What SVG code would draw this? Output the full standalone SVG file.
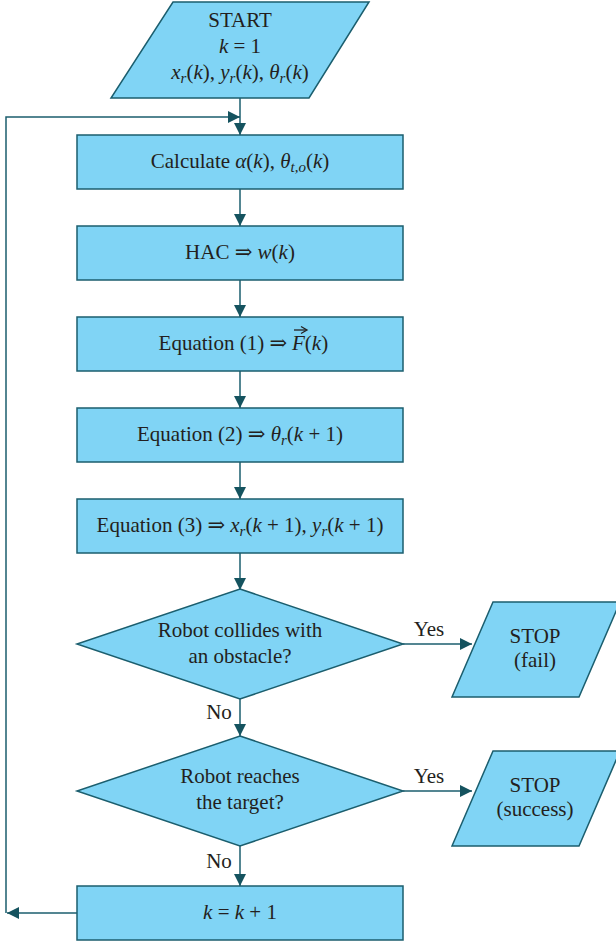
<svg xmlns="http://www.w3.org/2000/svg" width="616" height="942" viewBox="0 0 616 942" font-family="'Liberation Serif', 'DejaVu Serif', serif" font-size="21">
<defs>
<style>
.shape{fill:#80d4f5;stroke:#1b5e6e;stroke-width:1.5}
.conn{fill:none;stroke:#1b5e6e;stroke-width:1.5}
text{fill:#231f20}
.c{text-anchor:middle}
.i{font-style:italic}
.s{font-size:15px;font-style:italic}
</style>
<marker id="ah" markerUnits="userSpaceOnUse" markerWidth="13" markerHeight="13" refX="12" refY="6" orient="auto">
<path d="M0,0 L12,6 L0,12 Z" fill="#15535f"/>
</marker>
</defs>
<rect width="616" height="942" fill="#ffffff"/>

<g id="connectors">
<path class="conn" d="M240,98 L240,135" marker-end="url(#ah)"/>
<path class="conn" d="M6,913 L6,117 L240,117" marker-end="url(#ah)"/>
<path class="conn" d="M77,913 L7,913" marker-end="url(#ah)"/>
<path class="conn" d="M240,189 L240,226" marker-end="url(#ah)"/>
<path class="conn" d="M240,280 L240,317" marker-end="url(#ah)"/>
<path class="conn" d="M240,371 L240,408" marker-end="url(#ah)"/>
<path class="conn" d="M240,462 L240,499" marker-end="url(#ah)"/>
<path class="conn" d="M240,553 L240,590" marker-end="url(#ah)"/>
<path class="conn" d="M240,699 L240,736" marker-end="url(#ah)"/>
<path class="conn" d="M240,846 L240,886" marker-end="url(#ah)"/>
<path class="conn" d="M403,644 L472,644" marker-end="url(#ah)"/>
<path class="conn" d="M403,791 L472,791" marker-end="url(#ah)"/>
<text x="429" y="636" class="c">Yes</text>
<text x="429" y="783" class="c">Yes</text>
<text x="219" y="719" class="c">No</text>
<text x="219" y="868" class="c">No</text>
</g>

<g id="start">
<polygon class="shape" points="173,2 369,2 309,98 111,98"/>
<text x="240" y="27" class="c">START</text>
<text x="240" y="53" class="c"><tspan class="i">k</tspan> = 1</text>
<text x="240" y="79" class="c"><tspan class="i">x</tspan><tspan class="s" dy="4">r</tspan><tspan dy="-4">(</tspan><tspan class="i">k</tspan>), <tspan class="i">y</tspan><tspan class="s" dy="4">r</tspan><tspan dy="-4">(</tspan><tspan class="i">k</tspan>), <tspan class="i">θ</tspan><tspan class="s" dy="4">r</tspan><tspan dy="-4">(</tspan><tspan class="i">k</tspan>)</text>
</g>

<g id="calc">
<rect class="shape" x="77" y="135" width="326" height="54"/>
<text x="240" y="168" class="c">Calculate <tspan class="i">α</tspan>(<tspan class="i">k</tspan>), <tspan class="i">θ</tspan><tspan class="s" dy="4">t,o</tspan><tspan dy="-4">(</tspan><tspan class="i">k</tspan>)</text>
</g>

<g id="hac">
<rect class="shape" x="77" y="226" width="326" height="54"/>
<text x="240" y="259" class="c">HAC ⇒ <tspan class="i">w</tspan>(<tspan class="i">k</tspan>)</text>
</g>

<g id="eq1">
<rect class="shape" x="77" y="317" width="326" height="54"/>
<text x="287" y="350" text-anchor="end">Equation (1) ⇒</text>
<text x="292" y="350"><tspan class="i">F</tspan>(<tspan class="i">k</tspan>)</text>
<path d="M294,330 L306,330" stroke="#231f20" stroke-width="1.3" fill="none"/>
<path d="M301,326.5 L307,330 L301,333.5" stroke="#231f20" stroke-width="1.3" fill="none"/>
</g>

<g id="eq2">
<rect class="shape" x="77" y="408" width="326" height="54"/>
<text x="240" y="441" class="c">Equation (2) ⇒ <tspan class="i">θ</tspan><tspan class="s" dy="4">r</tspan><tspan dy="-4">(</tspan><tspan class="i">k</tspan> + 1)</text>
</g>

<g id="eq3">
<rect class="shape" x="77" y="499" width="326" height="54"/>
<text x="240" y="532" class="c">Equation (3) ⇒ <tspan class="i">x</tspan><tspan class="s" dy="4">r</tspan><tspan dy="-4">(</tspan><tspan class="i">k</tspan> + 1), <tspan class="i">y</tspan><tspan class="s" dy="4">r</tspan><tspan dy="-4">(</tspan><tspan class="i">k</tspan> + 1)</text>
</g>

<g id="collide">
<polygon class="shape" points="240,589 403,644 240,699 77,644"/>
<text x="240" y="637" class="c">Robot collides with</text>
<text x="240" y="663" class="c">an obstacle?</text>
</g>

<g id="stopfail">
<polygon class="shape" points="493,602 620,602 579,697 452,697"/>
<text x="535" y="643" class="c">STOP</text>
<text x="535" y="667" class="c">(fail)</text>
</g>

<g id="target">
<polygon class="shape" points="240,736 403,791 240,846 77,791"/>
<text x="240" y="783" class="c">Robot reaches</text>
<text x="240" y="809" class="c">the target?</text>
</g>

<g id="stopsuccess">
<polygon class="shape" points="493,751 620,751 579,846 452,846"/>
<text x="535" y="792" class="c">STOP</text>
<text x="535" y="816" class="c">(success)</text>
</g>

<g id="incr">
<rect class="shape" x="77" y="886" width="326" height="54"/>
<text x="240" y="919" class="c"><tspan class="i">k</tspan> = <tspan class="i">k</tspan> + 1</text>
</g>
</svg>
